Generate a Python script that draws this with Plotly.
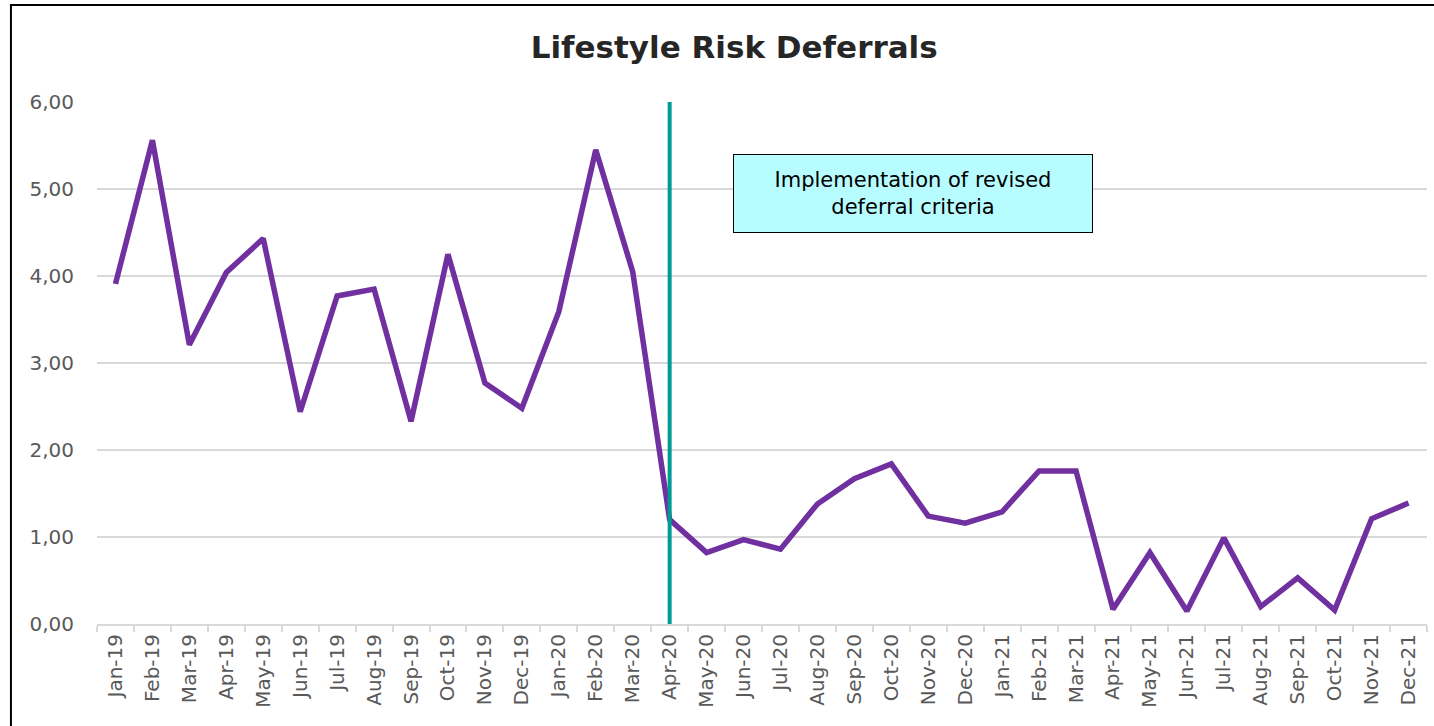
import plotly.graph_objects as go

months = [
    "Jan-19", "Feb-19", "Mar-19", "Apr-19", "May-19", "Jun-19",
    "Jul-19", "Aug-19", "Sep-19", "Oct-19", "Nov-19", "Dec-19",
    "Jan-20", "Feb-20", "Mar-20", "Apr-20", "May-20", "Jun-20",
    "Jul-20", "Aug-20", "Sep-20", "Oct-20", "Nov-20", "Dec-20",
    "Jan-21", "Feb-21", "Mar-21", "Apr-21", "May-21", "Jun-21",
    "Jul-21", "Aug-21", "Sep-21", "Oct-21", "Nov-21", "Dec-21",
]
deferrals = [
    3.91, 5.56, 3.21, 4.04, 4.43, 2.44,
    3.77, 3.85, 2.33, 4.25, 2.77, 2.48,
    3.59, 5.45, 4.05, 1.20, 0.82, 0.97,
    0.86, 1.38, 1.67, 1.84, 1.24, 1.16,
    1.29, 1.76, 1.76, 0.17, 0.82, 0.15,
    0.99, 0.20, 0.53, 0.16, 1.21, 1.39,
]
y_ticks = [0, 1, 2, 3, 4, 5, 6]
change_month = "Apr-20"
note_text = "Implementation of revised<br>deferral criteria"

FONT = "DejaVu Sans"
GRID = "#d9d9d9"

fig = go.Figure()
fig.add_trace(
    go.Scatter(
        x=months,
        y=deferrals,
        mode="lines",
        line=dict(color="#7030A0", width=5.5),
        showlegend=False,
        hoverinfo="x+y",
    )
)

# vertical marker at the criteria change
idx = months.index(change_month)
fig.add_shape(
    type="line", xref="x", yref="y",
    x0=idx, x1=idx, y0=0, y1=6.06,
    line=dict(color="#009B95", width=4),
)

# chart frame (runs off the right and bottom edges like the original crop)
fig.add_shape(
    type="rect", xref="paper", yref="paper",
    x0=-0.0647, x1=1.02, y0=-0.22, y1=1.186,
    line=dict(color="black", width=2),
    layer="below",
)

fig.add_annotation(
    xref="paper", yref="y",
    x=0.6135, y=4.95,
    text=note_text,
    showarrow=False,
    font=dict(family=FONT, size=21, color="black"),
    bgcolor="#B7FCFF",
    bordercolor="black",
    borderwidth=1,
    width=356,
    height=75,
    align="center",
)

fig.update_layout(
    title=dict(
        text="<b>Lifestyle Risk Deferrals</b>",
        x=0.512, xanchor="center", xref="container",
        y=0.935, yanchor="middle",
        font=dict(family=FONT, size=31, color="#262626"),
    ),
    width=1434,
    height=726,
    margin=dict(l=97, r=7, t=102, b=102, pad=0),
    plot_bgcolor="white",
    paper_bgcolor="white",
    separators=",.",
    font=dict(family=FONT, color="#595959"),
)

fig.update_xaxes(
    type="category",
    tickangle=-90,
    tickfont=dict(family=FONT, size=20, color="#595959"),
    showgrid=False,
    showline=True,
    linecolor=GRID,
    linewidth=2,
    ticks="outside",
    tickson="boundaries",
    ticklen=6,
    tickcolor=GRID,
    tickwidth=2,
    range=[-0.5, len(months) - 0.5],
)
fig.update_yaxes(
    range=[0, 6],
    tickvals=y_ticks,
    tickformat=".2f",
    tickfont=dict(family=FONT, size=20, color="#595959"),
    showgrid=True,
    gridcolor=GRID,
    gridwidth=2,
    zeroline=False,
    ticks="",
    ticklabelstandoff=22,
)

fig.write_html(
    "out.html",
    config={"displayModeBar": False},
    post_script="document.body.style.margin='0';document.body.style.overflow='hidden';",
)
